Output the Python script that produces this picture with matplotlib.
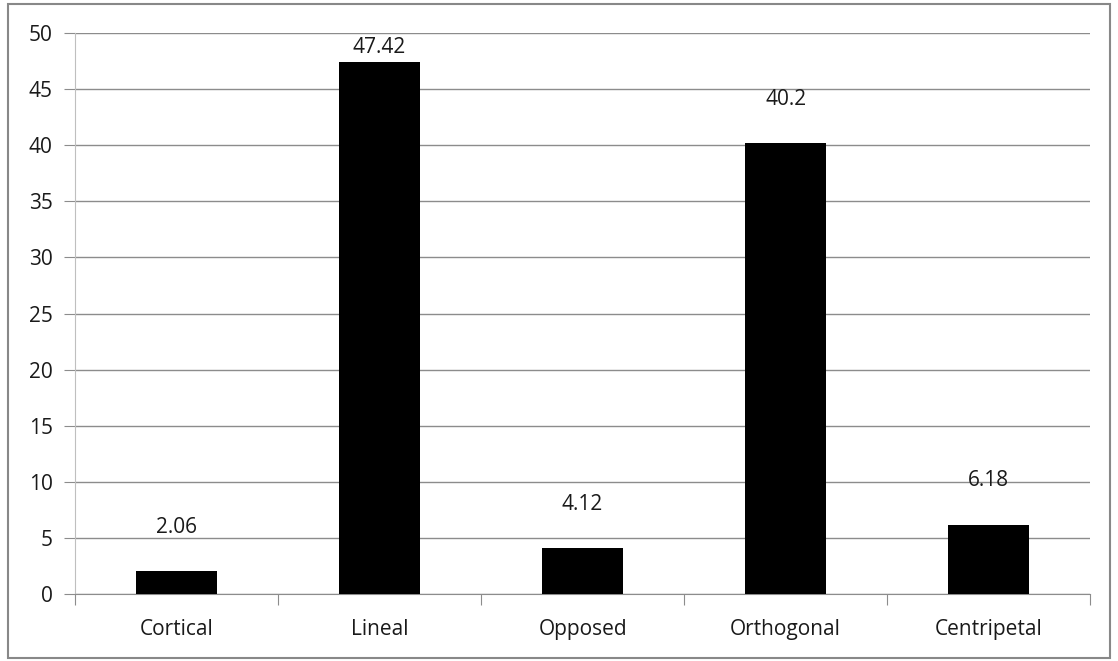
import matplotlib.pyplot as plt
from matplotlib.patches import Rectangle

categories = ['Cortical', 'Lineal', 'Opposed', 'Orthogonal', 'Centripetal']
values = [2.06, 47.42, 4.12, 40.2, 6.18]
value_labels = ['2.06', '47.42', '4.12', '40.2', '6.18']
yticks = [0, 5, 10, 15, 20, 25, 30, 35, 40, 45, 50]

plt.rcParams['font.family'] = ['Open Sans', 'DejaVu Sans']

fig = plt.figure(figsize=(11.18, 6.61), dpi=100)
ax = fig.add_axes([0.0671, 0.1014, 0.908, 0.8486])

x = list(range(len(categories)))
ax.bar(x, values, width=0.4, color='black', zorder=3)

# value labels sit above each bar, pulled down under the top edge if needed
for xi, v, lab in zip(x, values, value_labels):
    y = min(v + 3.9, 48.7)
    ax.text(xi, y, lab, ha='center', va='center', fontsize=15, color='#1a1a1a')

ax.set_xlim(-0.5, len(categories) - 0.5)
ax.set_ylim(0, 50)
ax.set_yticks(yticks)
ax.yaxis.grid(True, color='#8c8c8c', linewidth=1)
ax.set_axisbelow(True)

# category boundary ticks on the x axis
ax.set_xticks([i - 0.5 for i in range(len(categories) + 1)])
ax.set_xticklabels([])
ax.set_xticks(x, minor=True)
ax.set_xticklabels(categories, minor=True, fontsize=15, color='#1a1a1a')
ax.tick_params(axis='x', which='minor', length=0, pad=18)
ax.tick_params(axis='x', which='major', length=8, color='#8c8c8c')
ax.tick_params(axis='y', length=8, color='#8c8c8c', labelsize=15,
               labelcolor='#1a1a1a', pad=8)

for side in ['top', 'right']:
    ax.spines[side].set_visible(False)
ax.spines['left'].set_color('#bfbfbf')
ax.spines['bottom'].set_color('#8c8c8c')

# light frame around the whole chart
fig.patches.append(Rectangle((0.007, 0.005), 0.986, 0.989, transform=fig.transFigure,
                             fill=False, edgecolor='#888888', linewidth=1.5))

fig.savefig('out.png', dpi=100)
